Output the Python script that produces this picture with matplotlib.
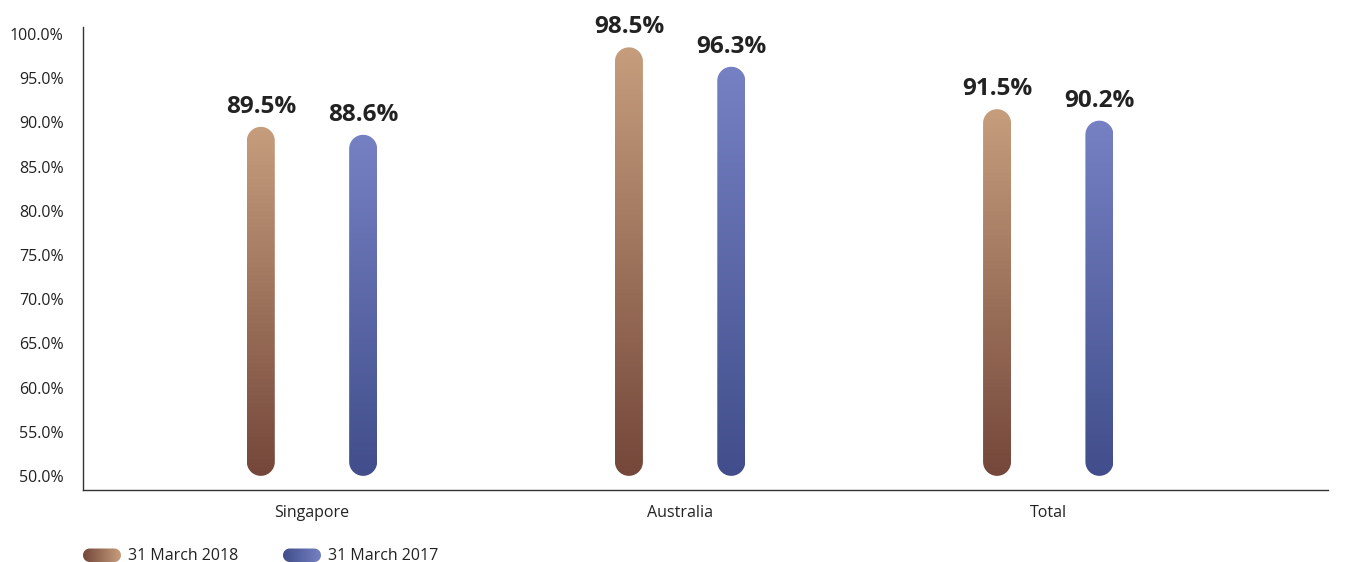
import numpy as np
import matplotlib
matplotlib.use("Agg")
import matplotlib.pyplot as plt
from matplotlib.patches import Polygon
from matplotlib.colors import LinearSegmentedColormap
from matplotlib.ticker import FuncFormatter

# ── Data ─────────────────────────────────────────────────────
categories = ["Singapore", "Australia", "Total"]
mar_2018 = [89.5, 98.5, 91.5]
mar_2017 = [88.6, 96.3, 90.2]
series_labels = ["31 March 2018", "31 March 2017"]
y_ticks = [50, 55, 60, 65, 70, 75, 80, 85, 90, 95, 100]

# ── Theme ────────────────────────────────────────────────────
BROWN = ("#C69E7D", "#74473A")   # top, bottom
BLUE = ("#7581C3", "#414E8B")
TEXT = "#222222"
FONT = ["Open Sans", "DejaVu Sans"]
plt.rcParams["font.family"] = FONT

BASE = 50.0
OFFSET = 0.139     # bar offset from category centre (x units)
BAR_W = 0.076      # bar width (x units)
XLIM = (-0.622, 2.76)
YLIM = (48.4, 100.8)

W, H = 1356, 562
fig = plt.figure(figsize=(W / 100, H / 100), dpi=100)
ax = fig.add_axes([83 / W, 1 - 490 / H, (1328 - 83) / W, (490 - 27) / H])
ax.set_xlim(*XLIM)
ax.set_ylim(*YLIM)


def pill_vertices(x0, y0, w, h, ry, vertical=True):
    """Stadium outline; ry is the cap radius along the long axis."""
    t = np.linspace(0, np.pi, 40)
    if vertical:
        r = w / 2
        xc = x0 + r
        top = np.column_stack([xc + r * np.cos(t), y0 + h - ry + ry * np.sin(t)])
        bot = np.column_stack([xc - r * np.cos(t), y0 + ry - ry * np.sin(t)])
    else:
        r = h / 2
        yc = y0 + r
        top = np.column_stack([x0 + w - ry + ry * np.sin(t), yc - r * np.cos(t)])
        bot = np.column_stack([x0 + ry - ry * np.sin(t), yc + r * np.cos(t)])
    return np.vstack([top, bot])


def gradient_pill(axis, x0, y0, w, h, colors, ry, vertical=True):
    cmap = LinearSegmentedColormap.from_list("g", [colors[1], colors[0]])
    patch = Polygon(pill_vertices(x0, y0, w, h, ry, vertical), closed=True,
                    facecolor="none", edgecolor="none", linewidth=0)
    axis.add_patch(patch)
    grad = np.linspace(0, 1, 256)
    img = grad.reshape(-1, 1) if vertical else grad.reshape(1, -1)
    im = axis.imshow(img, cmap=cmap, aspect="auto", origin="lower",
                     extent=(x0, x0 + w, y0, y0 + h), interpolation="bilinear")
    im.set_clip_path(patch)


# pixel scale -> cap radius in y units
px_x = (XLIM[1] - XLIM[0]) / (1328 - 83)
px_y = (YLIM[1] - YLIM[0]) / (490 - 27)
cap_ry = (BAR_W / 2) / px_x * px_y

for i, cat in enumerate(categories):
    for vals, cols, sign in ((mar_2018, BROWN, -1), (mar_2017, BLUE, 1)):
        xc = i + sign * OFFSET
        v = vals[i]
        gradient_pill(ax, xc - BAR_W / 2, BASE, BAR_W, v - BASE, cols, cap_ry)
        ax.annotate(f"{v:.1f}%", xy=(xc, v), xytext=(0, 10), textcoords="offset points",
                    ha="center", va="baseline", fontsize=17.5, fontweight="bold", color=TEXT)

ax.set_xlim(*XLIM)
ax.set_ylim(*YLIM)
ax.set_xticks(range(len(categories)))
ax.set_xticklabels(categories)
ax.set_yticks(y_ticks)
ax.yaxis.set_major_formatter(FuncFormatter(lambda v, p: f"{v:.1f}%"))
ax.tick_params(axis="y", length=0, pad=14, labelsize=11.5, labelcolor=TEXT)
ax.tick_params(axis="x", length=0, pad=11, labelsize=11.5, labelcolor=TEXT)
for s in ("top", "right"):
    ax.spines[s].set_visible(False)
for s in ("left", "bottom"):
    ax.spines[s].set_color("#333333")
    ax.spines[s].set_linewidth(1.0)

# ── Legend (pixel coordinates) ───────────────────────────────
lax = fig.add_axes([0, 0, 1, 1], zorder=-1)
lax.set_xlim(0, W)
lax.set_ylim(H, 0)
lax.axis("off")
legend_x = [83, 283]
for lx, cols, lab in zip(legend_x, (BROWN, BLUE), series_labels):
    cmap = LinearSegmentedColormap.from_list("l", [cols[1], cols[0]])
    patch = Polygon(pill_vertices(lx, 548.5, 38, 13.5, 6.75, vertical=False), closed=True,
                    facecolor="none", edgecolor="none", linewidth=0)
    lax.add_patch(patch)
    im = lax.imshow(np.linspace(0, 1, 256).reshape(1, -1), cmap=cmap, aspect="auto",
                    extent=(lx, lx + 38, 562, 548.5), interpolation="bilinear")
    im.set_clip_path(patch)
    lax.text(lx + 45, 556.5, lab, ha="left", va="center", fontsize=11.5, color=TEXT)
lax.set_xlim(0, W)
lax.set_ylim(H, 0)

fig.savefig("out.png", dpi=100, facecolor="white")
